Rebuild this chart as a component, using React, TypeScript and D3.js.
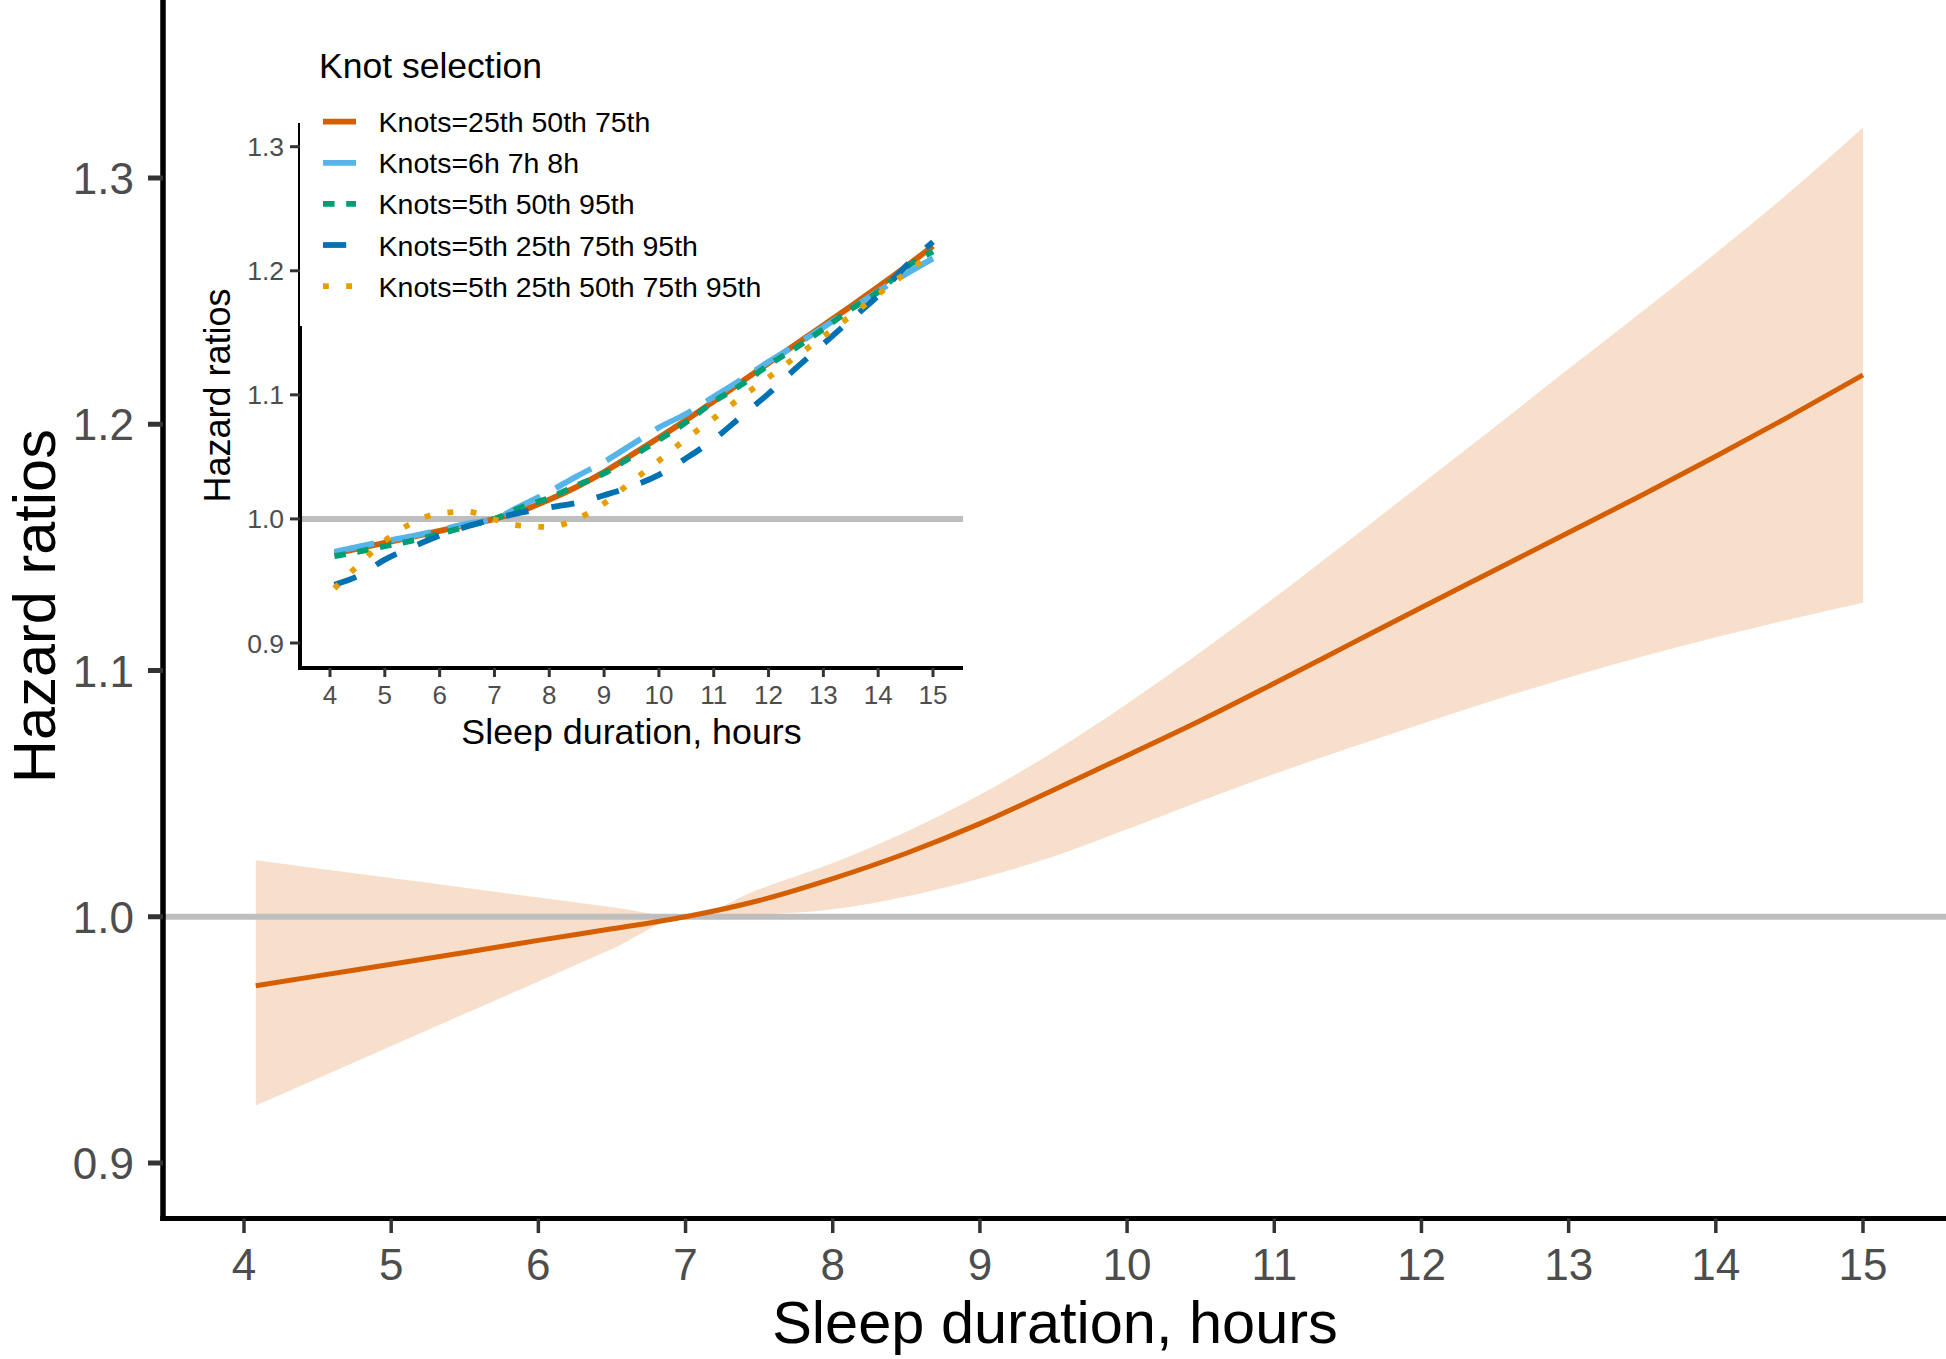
import React from "react";
import * as d3 from "d3";

// ---------- data ----------
const hours = [4.08, 4.5, 5, 5.5, 6, 6.5, 7, 7.5, 8, 8.5, 9, 9.5, 10, 10.5, 11, 11.5, 12, 12.5, 13, 13.5, 14, 14.5, 15];

const mainHR = [0.972, 0.976, 0.9807, 0.9855, 0.9904, 0.9951, 1.0, 1.0066, 1.0155, 1.0258, 1.0378, 1.0515, 1.0655, 1.0797, 1.0948, 1.1102, 1.1256, 1.1408, 1.156, 1.1713, 1.187, 1.2032, 1.22];
const mainUpper = [1.0229, 1.0196, 1.0157, 1.0118, 1.0078, 1.0039, 1.0, 1.0112, 1.0218, 1.0345, 1.0495, 1.067, 1.0865, 1.1075, 1.1295, 1.1525, 1.1757, 1.199, 1.2225, 1.2458, 1.2695, 1.2942, 1.3205];
const mainLower = [0.9233, 0.9343, 0.9475, 0.9606, 0.9737, 0.9869, 1.0, 1.0008, 1.003, 1.0082, 1.0155, 1.0245, 1.0355, 1.047, 1.058, 1.0683, 1.0783, 1.088, 1.0972, 1.1057, 1.1135, 1.1207, 1.1275];

const knots25_50_75 = mainHR;
const knots6h7h8h = [0.9735, 0.9775, 0.982, 0.9862, 0.991, 0.9962, 1.0, 1.011, 1.022, 1.0343, 1.046, 1.0598, 1.0737, 1.0848, 1.0985, 1.1123, 1.1267, 1.1403, 1.1545, 1.169, 1.1835, 1.1972, 1.21];
const knots5_50_95 = [0.97, 0.9735, 0.978, 0.9825, 0.988, 0.994, 1.0, 1.0095, 1.017, 1.027, 1.0367, 1.05, 1.0637, 1.078, 1.0945, 1.108, 1.124, 1.138, 1.153, 1.169, 1.183, 1.2025, 1.2155];
const knots5_25_75_95 = [0.947, 0.9537, 0.9672, 0.9774, 0.9866, 0.994, 1.0, 1.0053, 1.0092, 1.0129, 1.0191, 1.0262, 1.0355, 1.049, 1.064, 1.0825, 1.101, 1.1215, 1.141, 1.1606, 1.18, 1.2035, 1.2233];
const knots5_25_50_75_95 = [0.944, 0.962, 0.9823, 0.9968, 1.0046, 1.0058, 0.9995, 0.9945, 0.9935, 1.0, 1.0125, 1.03, 1.047, 1.0647, 1.081, 1.098, 1.114, 1.1307, 1.147, 1.1637, 1.181, 1.198, 1.2145];

const knotLabels = [
  "Knots=25th 50th 75th",
  "Knots=6h 7h 8h",
  "Knots=5th 50th 95th",
  "Knots=5th 25th 75th 95th",
  "Knots=5th 25th 50th 75th 95th",
];
const knotSeries = [knots25_50_75, knots6h7h8h, knots5_50_95, knots5_25_75_95, knots5_25_50_75_95];

const xTicks = [4, 5, 6, 7, 8, 9, 10, 11, 12, 13, 14, 15];
const yTicks = [0.9, 1.0, 1.1, 1.2, 1.3];

// ---------- styles ----------
const knotColors = ["#D55E00", "#56B4E9", "#009E73", "#0072B2", "#E69F00"];
const LW = 5.8;
const knotDash = [
  "none",
  `${7 * LW},${3 * LW}`,
  `${2 * LW},${2 * LW}`,
  `${4 * LW},${4 * LW}`,
  `${1 * LW},${3 * LW}`,
];
const FONT = "'Liberation Sans', Arial, Helvetica, sans-serif";
const TICK_COLOR = "#4D4D4D";

export default function App() {
  // main scales
  const xM = d3.scaleLinear().domain([4, 15]).range([244, 1863]);
  const yM = d3.scaleLinear().domain([0.9, 1.3]).range([1163, 178]);
  const mainYAxisX = 163;
  const mainXAxisY = 1218.5;

  // inset scales
  const xI = d3.scaleLinear().domain([4, 15]).range([330, 933]);
  const yI = d3.scaleLinear().domain([0.9, 1.3]).range([643, 146.7]);
  const inYAxisX = 300;
  const inXAxisY = 668;
  const inTop = 123;
  const inRight = 963;

  const mainPts = hours.map((h, i) => [h, mainHR[i]] as [number, number]);
  const mainLine = d3
    .line<[number, number]>()
    .x((d) => xM(d[0]))
    .y((d) => yM(d[1]))
    .curve(d3.curveMonotoneX);
  const band = d3
    .area<number>()
    .x((_, i) => xM(hours[i]))
    .y0((_, i) => yM(mainLower[i]))
    .y1((_, i) => yM(mainUpper[i]))
    .curve(d3.curveMonotoneX);

  const inLine = d3
    .line<[number, number]>()
    .x((d) => xI(d[0]))
    .y((d) => yI(d[1]))
    .curve(d3.curveMonotoneX);

  return (
    <svg
      width={1946}
      height={1359}
      style={{ position: "absolute", left: 0, top: 0, background: "#fff" }}
      fontFamily={FONT}
    >
      <rect x={0} y={0} width={1946} height={1359} fill="#fff" />

      {/* ===== main plot ===== */}
      <path d={band(hours.map((_, i) => i)) || ""} fill="#D55E00" fillOpacity={0.2} />
      <line x1={mainYAxisX} x2={1946} y1={yM(1)} y2={yM(1)} stroke="#BEBEBE" strokeWidth={6} />
      <path d={mainLine(mainPts) || ""} fill="none" stroke="#D55E00" strokeWidth={5} />

      {/* main axes */}
      <line x1={mainYAxisX} x2={mainYAxisX} y1={0} y2={mainXAxisY + 2.5} stroke="#000" strokeWidth={5.5} />
      <line x1={mainYAxisX - 2.75} x2={1946} y1={mainXAxisY} y2={mainXAxisY} stroke="#000" strokeWidth={5} />
      {yTicks.map((t) => (
        <g key={"my" + t}>
          <line x1={148} x2={mainYAxisX} y1={yM(t)} y2={yM(t)} stroke="#333" strokeWidth={5} />
          <text x={134} y={yM(t) + 16} textAnchor="end" fontSize={44} fill={TICK_COLOR}>
            {t.toFixed(1)}
          </text>
        </g>
      ))}
      {xTicks.map((t) => (
        <g key={"mx" + t}>
          <line x1={xM(t)} x2={xM(t)} y1={mainXAxisY} y2={1233} stroke="#333" strokeWidth={3.5} />
          <text x={xM(t)} y={1280} textAnchor="middle" fontSize={44} fill={TICK_COLOR}>
            {t}
          </text>
        </g>
      ))}
      <text x={1055} y={1343} textAnchor="middle" fontSize={59.5} fill="#000">
        Sleep duration, hours
      </text>
      <text
        transform={`translate(54.5, 606) rotate(-90)`}
        textAnchor="middle"
        fontSize={59.5}
        fill="#000"
      >
        Hazard ratios
      </text>

      {/* ===== inset ===== */}
      <line x1={inYAxisX} x2={inRight} y1={yI(1)} y2={yI(1)} stroke="#BEBEBE" strokeWidth={6} />
      {knotSeries.map((s, k) => (
        <path
          key={"ks" + k}
          d={inLine(hours.map((h, i) => [h, s[i]] as [number, number])) || ""}
          fill="none"
          stroke={knotColors[k]}
          strokeWidth={LW}
          strokeDasharray={knotDash[k]}
        />
      ))}
      <line x1={inYAxisX} x2={inYAxisX} y1={inTop} y2={inXAxisY + 2} stroke="#000" strokeWidth={4} />
      <line x1={inYAxisX - 2} x2={inRight} y1={inXAxisY} y2={inXAxisY} stroke="#000" strokeWidth={4} />
      {yTicks.map((t) => (
        <g key={"iy" + t}>
          <line x1={290} x2={inYAxisX} y1={yI(t)} y2={yI(t)} stroke="#333" strokeWidth={3} />
          <text x={284} y={yI(t) + 9.5} textAnchor="end" fontSize={26.5} fill={TICK_COLOR}>
            {t.toFixed(1)}
          </text>
        </g>
      ))}
      {xTicks.map((t) => (
        <g key={"ix" + t}>
          <line x1={xI(t)} x2={xI(t)} y1={inXAxisY} y2={677} stroke="#333" strokeWidth={3} />
          <text x={xI(t)} y={704} textAnchor="middle" fontSize={26} fill={TICK_COLOR}>
            {t}
          </text>
        </g>
      ))}
      <text x={631.5} y={744} textAnchor="middle" fontSize={35.8} fill="#000">
        Sleep duration, hours
      </text>
      <text transform={`translate(230, 395.5) rotate(-90)`} textAnchor="middle" fontSize={36} fill="#000">
        Hazard ratios
      </text>

      {/* ===== legend ===== */}
      <rect x={inYAxisX} y={18} width={480} height={308} fill="#fff" />
      <text x={319} y={78} fontSize={35.5} fill="#000">
        Knot selection
      </text>
      {knotLabels.map((lab, k) => {
        const cy = 121.7 + k * 41.1;
        return (
          <g key={"lg" + k}>
            <line
              x1={323}
              x2={356}
              y1={cy}
              y2={cy}
              stroke={knotColors[k]}
              strokeWidth={LW}
              strokeDasharray={knotDash[k]}
            />
            <text x={378.6} y={cy + 10.5} fontSize={28.5} fill="#000">
              {lab}
            </text>
          </g>
        );
      })}
    </svg>
  );
}
